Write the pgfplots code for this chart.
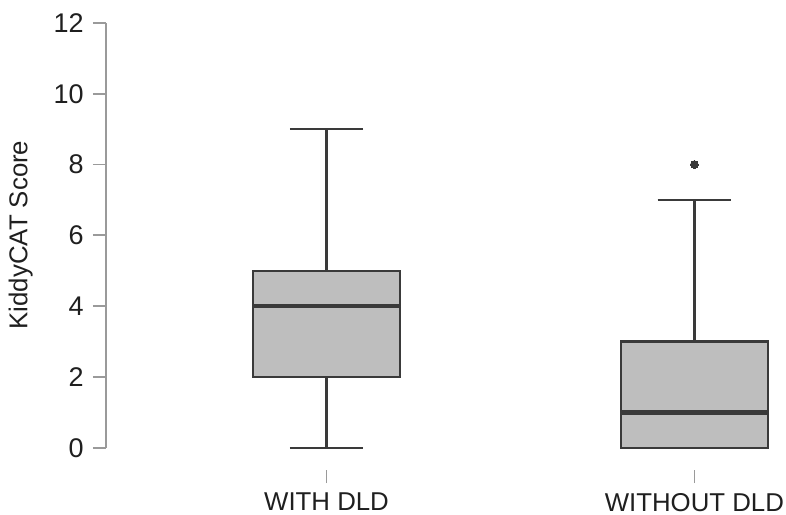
\documentclass[border=0pt]{standalone}
\usepackage{fontspec}
\setmainfont{Liberation Sans}
\usepackage{pgfplots}
\pgfplotsset{compat=1.18}
\usepgfplotslibrary{statistics}
\definecolor{boxfill}{HTML}{BEBEBE}
\definecolor{boxedge}{HTML}{3A3A3A}
\definecolor{axisgray}{HTML}{9A9A9A}
\begin{document}
\begin{tikzpicture}
\begin{axis}[
  width=340pt, height=235pt, scale only axis,
  xmin=0.4, xmax=2.249, ymin=-0.63, ymax=12.647,
  axis lines*=left,
  axis line style={draw=none},
  tick align=outside,
  xtick pos=bottom, ytick pos=left,
  xtick={1,2}, xticklabels={WITH DLD, WITHOUT DLD},
  ytick={0,2,4,6,8,10,12},
  major tick length=6.5pt,
  tick style={axisgray, line width=0.9pt},
  /pgf/number format/assume math mode=true,
  yticklabel style={font=\fontsize{13.5}{15}\selectfont, text=black!88, xshift=-1pt},
  xticklabel style={font=\fontsize{12.9}{15}\selectfont, text=black!88, yshift=-1.5pt},
  ylabel={KiddyCAT Score},
  ylabel style={font=\fontsize{12.9}{15}\selectfont, text=black!88, at={(axis description cs:-0.107,0.5)}, anchor=south, inner sep=0pt},
  boxplot/draw direction=y,
  boxplot/every median/.style={line width=2.2pt},
  clip=false,
]
\addplot[boxplot prepared={draw position=1, lower whisker=0, lower quartile=2, median=4, upper quartile=5, upper whisker=9, box extend=0.4, whisker extend=0.2}, draw=boxedge, fill=boxfill, line width=1.2pt, solid] coordinates {};
\addplot[boxplot prepared={draw position=2, lower whisker=0, lower quartile=0, median=1, upper quartile=3, upper whisker=7, box extend=0.4, whisker extend=0.2}, draw=boxedge, fill=boxfill, line width=1.2pt, solid, mark=*, mark size=2pt, mark options={fill=boxedge, draw=boxedge, line width=0pt}] coordinates {(0,8)};
\draw[axisgray, line width=0.9pt] (axis cs:0.4,0) -- (axis cs:0.4,12);
\coordinate (bl) at (axis cs:0.1123,-1.873);
\coordinate (tr) at (axis cs:2.249,12.647);
\end{axis}
\pgfresetboundingbox
\path[use as bounding box] (bl) rectangle (tr);
\end{tikzpicture}
\end{document}
